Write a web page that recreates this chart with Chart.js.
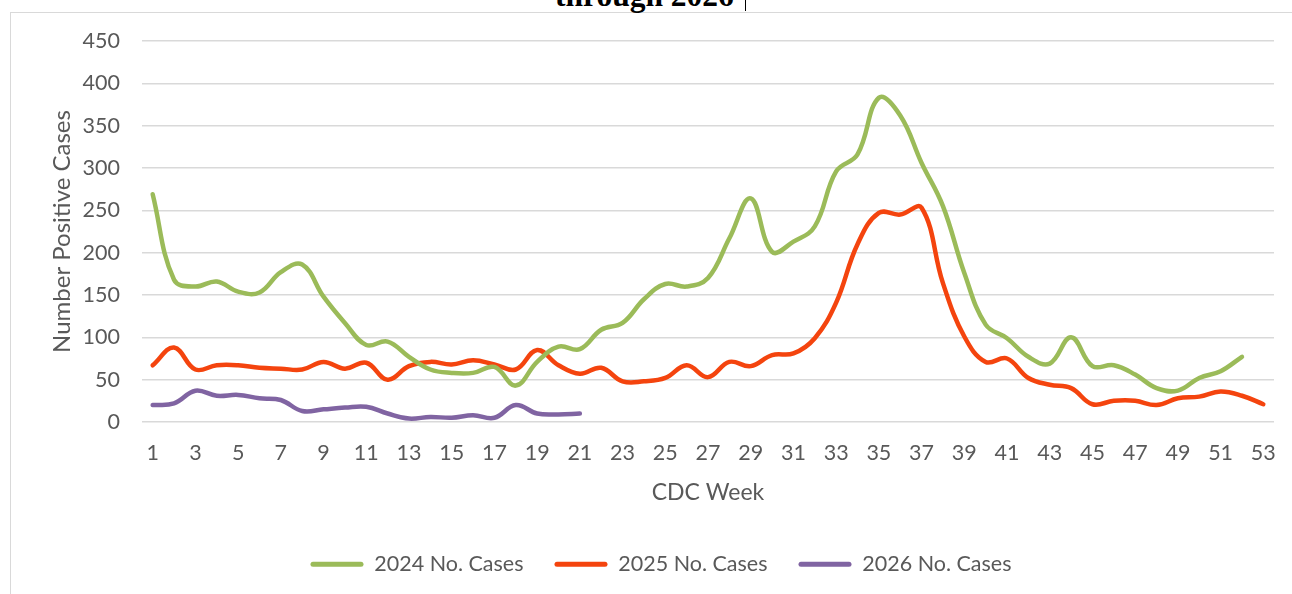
<!DOCTYPE html>
<html>
<head>
<meta charset="utf-8">
<script src="https://cdn.jsdelivr.net/npm/chart.js@4.4.1/dist/chart.umd.min.js"></script>
<style>
  html, body { margin: 0; padding: 0; background: #fff; overflow: hidden; width: 1292px; height: 594px; }
  #frame { position: absolute; left: 10px; top: 12px; width: 2000px; height: 1000px; border-left: 1px solid #d9d9d9; border-top: 1px solid #d9d9d9; }
  #title { position: absolute; left: 555px; top: -20px; font: bold 31.5px "Liberation Serif", serif; line-height: 31px; color: #000; white-space: nowrap; }
  #cursor { position: absolute; left: 745px; top: 0; width: 1px; height: 11px; background: #000; }
  #wrap { position: absolute; left: 0; top: 0; width: 1292px; height: 594px; }
</style>
</head>
<body>
<div id="frame"></div>
<div id="title">through 2026</div>
<div id="cursor"></div>
<div id="wrap"><canvas id="chart"></canvas></div>
<script>
// CDC weeks 1..53 (odd ones are labelled on the axis)
const weeks = Array.from({ length: 53 }, (_, i) => String(i + 1));

const cases2024 = [269, 168, 160, 166, 154, 153, 177, 186, 148, 117, 91, 95, 77, 62, 58, 58, 65, 43, 71, 89,
  86, 109, 117, 145, 163, 160, 170, 217, 264, 201, 213, 231, 296, 316, 383, 362, 306, 255, 176, 115,
  99, 77, 69, 100, 66, 67, 56, 40, 37, 52, 60, 77];

const cases2025 = [67, 88, 62, 67, 67, 64, 63, 62, 71, 63, 70, 50, 66, 71, 68, 73, 68, 62, 85, 67,
  57, 64, 48, 48, 52, 67, 53, 71, 66, 79, 81, 99, 141, 210, 247, 245, 253, 164, 101, 71,
  75, 52, 44, 40, 21, 25, 25, 20, 28, 30, 36, 31, 21];

const cases2026 = [20, 22, 37, 31, 32, 28, 26, 13, 15, 17, 18, 10, 4, 6, 5, 8, 5, 20, 10, 9, 10];

const seriesNames = ['2024 No. Cases', '2025 No. Cases', '2026 No. Cases'];
const seriesColors = ['#9BBB59', '#F4440E', '#8064A2'];

const textColor = '#595959';
const fontFamily = 'Lato, "Open Sans", sans-serif';

function makeDataset(idx, values) {
    return {
        label: seriesNames[idx],
        data: values,
        borderColor: seriesColors[idx],
        backgroundColor: seriesColors[idx],
        borderWidth: 4.5,
        borderCapStyle: 'round',
        borderJoinStyle: 'round',
        pointRadius: 0,
        pointHoverRadius: 0,
        tension: 0.4,
        fill: false
    };
}

// legend in the original sits a bit right of the canvas centre
const legendNudge = {
    id: 'legendNudge',
    afterLayout(chart) {
        chart.legend.left += 24;
        chart.legend.right += 24;
    }
};

new Chart(document.getElementById('chart'), {
    type: 'line',
    data: {
        labels: weeks,
        datasets: [
            makeDataset(0, cases2024),
            makeDataset(1, cases2025),
            makeDataset(2, cases2026)
        ]
    },
    plugins: [legendNudge],
    options: {
        responsive: true,
        maintainAspectRatio: false,
        devicePixelRatio: 1,
        animation: false,
        layout: { padding: { top: 41, right: 18, bottom: 9, left: 0 } },
        plugins: {
            tooltip: { enabled: false },
            legend: {
                position: 'bottom',
                labels: {
                    color: textColor,
                    font: { family: fontFamily, size: 21.5 },
                    boxWidth: 53,
                    boxHeight: 5,
                    padding: 31,
                    useBorderRadius: true,
                    borderRadius: 2.5,
                    generateLabels(chart) {
                        const items = Chart.defaults.plugins.legend.labels.generateLabels(chart);
                        items.forEach(it => { it.lineWidth = 0; });
                        return items;
                    }
                }
            }
        },
        scales: {
            x: {
                offset: true,
                grid: { display: false },
                border: { display: false },
                ticks: {
                    color: textColor,
                    font: { family: fontFamily, size: 21.5 },
                    padding: 10,
                    autoSkip: false,
                    maxRotation: 0,
                    callback: function (val, i) { return i % 2 === 0 ? weeks[i] : ''; }
                },
                title: {
                    display: true,
                    text: 'CDC Week',
                    color: textColor,
                    font: { family: fontFamily, size: 23 },
                    padding: { top: 0, bottom: 15.7 }
                },
                afterFit(scale) { scale.height = 100.5; }
            },
            y: {
                min: 0,
                max: 450,
                grid: { color: '#d9d9d9', lineWidth: 1.5, drawTicks: false },
                border: { display: false },
                ticks: {
                    stepSize: 50,
                    color: textColor,
                    font: { family: fontFamily, size: 21.5 },
                    padding: 22
                },
                title: {
                    display: true,
                    text: 'Number Positive Cases',
                    color: textColor,
                    font: { family: fontFamily, size: 24 },
                    padding: { top: 47.6, bottom: 0 }
                },
                afterFit(scale) { scale.width = 142; }
            }
        }
    }
});
</script>
</body>
</html>
